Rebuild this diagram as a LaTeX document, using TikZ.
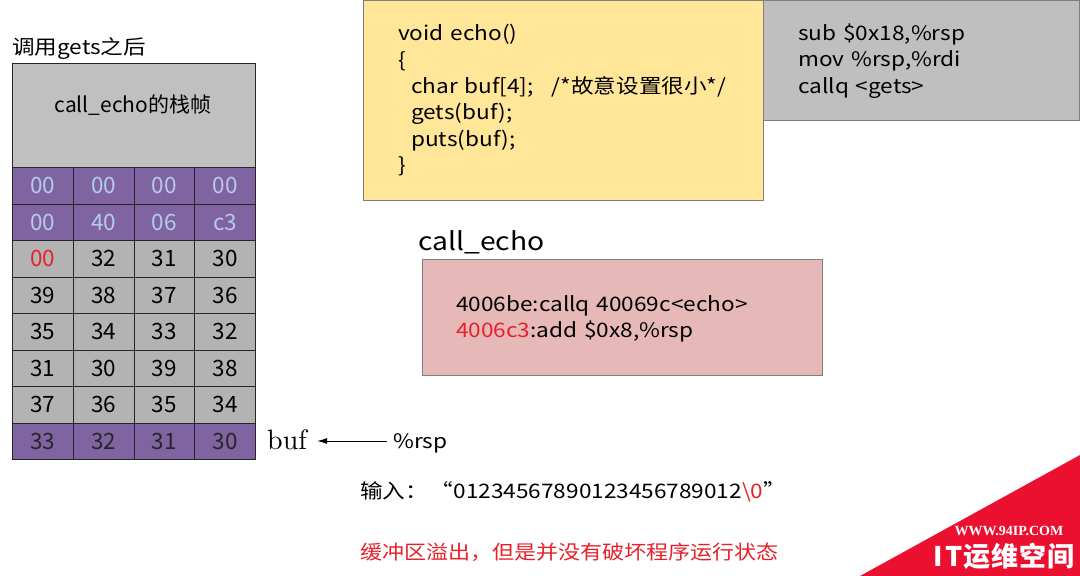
\documentclass[tikz,border=0pt]{standalone}
\usepackage{fontspec}
\newfontfamily\cjk[FakeStretch=1.13,WordSpace=1.35]{Noto Sans CJK SC}
\newfontfamily\cjkplain{Noto Sans CJK SC}
\newfontfamily\wmserif{Liberation Serif}
\newfontfamily\lmten{lmroman10-regular.otf}
\usetikzlibrary{arrows.meta}
\definecolor{purp}{HTML}{8064A2}
\definecolor{ltblue}{HTML}{B4CBEA}
\definecolor{cellgray}{HTML}{B3B3B3}
\definecolor{topgray}{HTML}{C0C0C0}
\definecolor{codeyellow}{HTML}{FFE699}
\definecolor{asmgray}{HTML}{BFBFBF}
\definecolor{pinkbox}{HTML}{E6B8B7}
\definecolor{numred}{HTML}{E8202A}
\definecolor{wmred}{HTML}{EC1030}
\definecolor{edge}{HTML}{7F7F7F}
\begin{document}
\begin{tikzpicture}[x=1pt,y=-1pt,
  txt/.style={font=\cjk\fontsize{20}{24}\selectfont, inner sep=0pt, anchor=base west},
  cell/.style={draw=black!85, line width=0.8pt, minimum width=60.75pt, minimum height=36.5pt,
    inner sep=0pt, anchor=north west, font=\cjkplain\fontsize{22.5}{24}\selectfont},
  pcell/.style={cell, fill=purp, text=ltblue},
  bcell/.style={cell, fill=purp, text=black!85},
  gcell/.style={cell, fill=cellgray, text=black},
  panel/.style={draw=edge, line width=0.8pt, anchor=north west, inner sep=0pt}
]
\useasboundingbox (0,0) rectangle (1080,576);
\fill[white] (0,0) rectangle (1080,576);

% title
\node[txt] (title) at (12,54) {调用gets之后};

% stack frame
\node[panel, draw=black!85, fill=topgray, minimum width=243pt, minimum height=104pt] (frame) at (12,63) {};
\node[font=\cjkplain\fontsize{21}{24}\selectfont, inner sep=0pt] (frametext) at (133,105) {call\_echo的栈帧};

\foreach \r/\a/\b/\c/\d/\s in {
  1/00/00/00/00/pcell,
  2/00/40/06/c3/pcell,
  3/{\textcolor{numred}{00}}/32/31/30/gcell,
  4/39/38/37/36/gcell,
  5/35/34/33/32/gcell,
  6/31/30/39/38/gcell,
  7/37/36/35/34/gcell,
  8/33/32/31/30/bcell}{
  \pgfmathsetmacro\yy{167+(\r-1)*36.5}
  \node[\s] (c\r-1) at (12,\yy) {\a};
  \node[\s] (c\r-2) at (72.75,\yy) {\b};
  \node[\s] (c\r-3) at (133.5,\yy) {\c};
  \node[\s] (c\r-4) at (194.25,\yy) {\d};
}

% buf pointer
\node[font=\lmten\fontsize{28}{30}\selectfont, inner sep=0pt, anchor=base west] (buf) at (267,449) {buf};
\node[txt] (rsp) at (393,448) {\%rsp};
\draw[line width=1pt, -{Latex[length=10pt,width=6pt]}] ([xshift=-6pt]rsp.west |- 0,441) -- ([xshift=10pt]buf.east |- 0,441);

% source code box
\node[panel, fill=codeyellow, minimum width=400pt, minimum height=200pt] (code) at (363,0) {};
\node[txt] (l1) at (398,40) {void echo()};
\node[txt] (l2) at (398,67) {\{};
\node[txt] (l3) at (411,93) {char buf[4];\hspace{18pt}/*故意设置很小*/};
\node[txt] (l4) at (411,119) {gets(buf);};
\node[txt] (l5) at (411,146) {puts(buf);};
\node[txt] (l6) at (398,172) {\}};

% asm box
\node[panel, fill=asmgray, minimum width=316pt, minimum height=120pt] (asm) at (763,0) {};
\node[txt] (a1) at (798,40) {sub \$0x18,\%rsp};
\node[txt] (a2) at (798,66) {mov \%rsp,\%rdi};
\node[txt] (a3) at (798,93) {callq <gets>};

% call_echo
\node[font=\cjk\fontsize{25}{30}\selectfont, inner sep=0pt, anchor=base west] (ce) at (418,250) {call\_echo};
\node[panel, fill=pinkbox, minimum width=400pt, minimum height=116pt] (pink) at (422,259) {};
\node[txt] (p1) at (456,311) {4006be:callq 40069c<echo>};
\node[txt] (p2) at (456,337) {\textcolor{numred}{4006c3}:add \$0x8,\%rsp};

% input
\node[txt] (inp) at (360,498) {输入：\hspace{3pt}“01234567890123456789012\textcolor{numred}{\textbackslash 0}”};
\node[txt, text=numred, font=\cjk\fontsize{19.5}{24}\selectfont] (note) at (360,559) {缓冲区溢出，但是并没有破坏程序运行状态};

% watermark
\fill[wmred] (1080,455) -- (1080,576) -- (860,576) -- cycle;
\node[text=white, font=\wmserif\bfseries\fontsize{14}{16}\selectfont, inner sep=0pt] (wm1) at (1009,531) {WWW.94IP.COM};
\node[text=white, font=\cjkplain\bfseries\fontsize{27}{30}\selectfont, inner sep=0pt] (wm2) at (1004,556) {I\hspace{2pt}T\hspace{1pt}运\hspace{1pt}维\hspace{1pt}空\hspace{1pt}间};
\end{tikzpicture}
\end{document}
